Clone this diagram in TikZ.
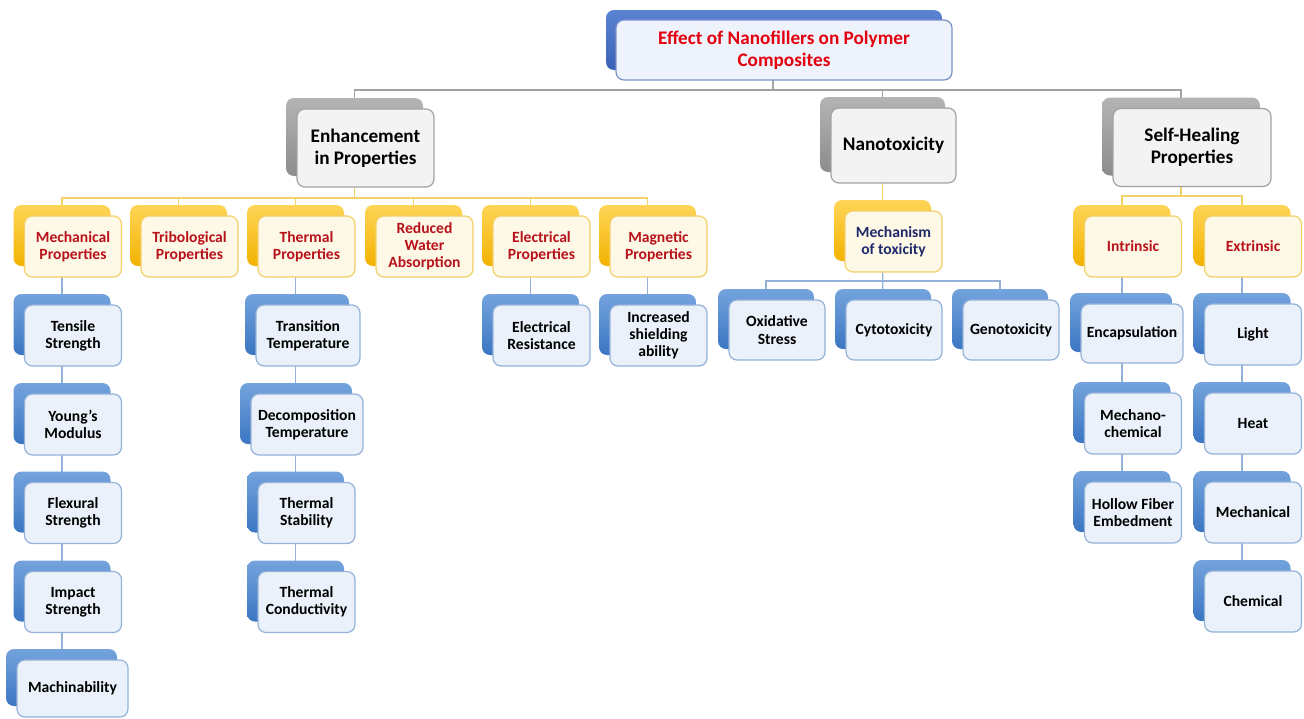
\documentclass[tikz,border=0pt]{standalone}
\usepackage{fontspec}
\setmainfont{Carlito}
\usetikzlibrary{shadows, backgrounds, positioning}

\definecolor{titlered}{HTML}{E3000F}
\definecolor{darkred}{HTML}{B8121B}
\definecolor{navytxt}{HTML}{1F2A6B}
\definecolor{bluetop}{HTML}{74A3DD}
\definecolor{bluebot}{HTML}{3B76C2}
\definecolor{bluefront}{HTML}{EAF1FA}
\definecolor{blueedge}{HTML}{94B2D8}
\definecolor{yellowtop}{HTML}{FFD557}
\definecolor{yellowbot}{HTML}{F2B200}
\definecolor{yellowfront}{HTML}{FEF8E6}
\definecolor{yellowedge}{HTML}{F3D068}
\definecolor{graytop}{HTML}{B4B4B4}
\definecolor{graybot}{HTML}{8C8C8C}
\definecolor{grayfront}{HTML}{F3F3F3}
\definecolor{grayedge}{HTML}{A2A2A2}
\definecolor{headtop}{HTML}{5A84D2}
\definecolor{headbot}{HTML}{3862B6}
\definecolor{headfront}{HTML}{EEF2FB}
\definecolor{headedge}{HTML}{7C8FCB}

\begin{document}
\begin{tikzpicture}[x=0.5pt, y=-0.5pt,
    box/.style={rounded corners=4pt, align=center, inner sep=0pt, line width=0.6pt,
        minimum width=48.5pt, minimum height=30.5pt,
        font=\fontsize{7.8}{8.6}\selectfont\bfseries},
    bluebox/.style={box, draw=blueedge, fill=bluefront,
        general shadow={top color=bluetop, bottom color=bluebot, shadow xshift=-5.5pt, shadow yshift=5.5pt}},
    yellowbox/.style={box, draw=yellowedge, fill=yellowfront, text=darkred,
        general shadow={top color=yellowtop, bottom color=yellowbot, shadow xshift=-5.5pt, shadow yshift=5.5pt}},
    graybox/.style={box, draw=grayedge, fill=grayfront, minimum height=39pt,
        font=\fontsize{9.6}{11}\selectfont\bfseries,
        general shadow={top color=graytop, bottom color=graybot, shadow xshift=-5.5pt, shadow yshift=5.5pt}},
    headbox/.style={box, draw=headedge, fill=headfront, text=titlered,
        minimum width=168pt, minimum height=30pt,
        font=\fontsize{9.6}{10.8}\selectfont\bfseries,
        general shadow={top color=headtop, bottom color=headbot, shadow xshift=-5pt, shadow yshift=5pt}},
    grayline/.style={draw=grayedge, line width=0.6pt},
    yline/.style={draw=yellowedge, line width=0.6pt},
    bline/.style={draw=blueedge, line width=0.6pt}]
    \useasboundingbox (0,0) rectangle (1304,718);

    % title and main branches
    \node[headbox] (title) at (784,50) {Effect of Nanofillers on Polymer\\Composites};
    \node[graybox, minimum width=68.5pt] (enh) at (365.5,148) {Enhancement\\in Properties};
    \node[graybox, minimum width=62.5pt, minimum height=37.5pt] (ntox) at (893.5,145.5) {Nanotoxicity};
    \node[graybox, minimum width=79pt] (shp) at (1192,147.5) {Self-Healing\\Properties};

    % properties
    \node[yellowbox] (mech) at (73,246.5) {Mechanical\\Properties};
    \node[yellowbox] (trib) at (189.5,246.5) {Tribological\\Properties};
    \node[yellowbox] (therm) at (306.5,246.5) {Thermal\\Properties};
    \node[yellowbox] (water) at (424.5,246.5) {Reduced\\Water\\Absorption};
    \node[yellowbox] (elecp) at (541.5,246.5) {Electrical\\Properties};
    \node[yellowbox] (magn) at (658.5,246.5) {Magnetic\\Properties};

    \node[bluebox] (tens) at (73,335.5) {Tensile\\Strength};
    \node[bluebox] (young) at (73,424.5) {Young{\char"0027}s\\Modulus};
    \node[bluebox] (flex) at (73,513) {Flexural\\Strength};
    \node[bluebox] (impact) at (73,602) {Impact\\Strength};
    \node[bluebox, minimum width=55.5pt, minimum height=28.5pt] (machin) at (72.5,688.5) {Machinability};

    \node[bluebox, minimum width=52pt] (trans) at (308,335.5) {Transition\\Temperature};
    \node[bluebox, minimum width=56pt] (decomp) at (307,424.5) {Decomposition\\Temperature};
    \node[bluebox] (tstab) at (306.5,513) {Thermal\\Stability};
    \node[bluebox] (tcond) at (306.5,602) {Thermal\\Conductivity};

    \node[bluebox] (eres) at (541.5,335.5) {Electrical\\Resistance};
    \node[bluebox] (shield) at (658.5,335.5) {Increased\\shielding\\ability};

    % toxicity
    \node[yellowbox, text=navytxt] (mechan) at (893.5,241.5) {Mechanism\\of toxicity};
    \node[bluebox, minimum width=48pt, minimum height=30pt] (oxid) at (777,330) {Oxidative\\Stress};
    \node[bluebox, minimum width=48pt, minimum height=30pt] (cyto) at (894,330) {Cytotoxicity};
    \node[bluebox, minimum width=48pt, minimum height=30pt] (geno) at (1011,330) {Genotoxicity};

    % self-healing
    \node[yellowbox] (intr) at (1133,246.5) {Intrinsic};
    \node[yellowbox] (extr) at (1253,246.5) {Extrinsic};
    \node[bluebox, minimum width=51pt, minimum height=29.5pt] (encap) at (1132,333.5) {Encapsulation};
    \node[bluebox] (mchem) at (1133,423.5) {Mechano-\\chemical};
    \node[bluebox] (hollow) at (1133,512.5) {Hollow Fiber\\Embedment};
    \node[bluebox] (light) at (1253,334.5) {Light};
    \node[bluebox] (heat) at (1253,423.5) {Heat};
    \node[bluebox] (mechx) at (1253,512.5) {Mechanical};
    \node[bluebox] (chem) at (1253,601.5) {Chemical};

    % connector points sit on the back boxes
    \foreach \n in {title,enh,ntox,shp,mech,trib,therm,water,elecp,magn,
                    mechan,oxid,cyto,geno,intr,extr}
        \coordinate (\n-c) at ([xshift=-5.5pt]\n.center);
    \path (title-c) ++(0,40) coordinate (gbus);
    \path (enh-c) ++(0,50) coordinate (ybus);
    \path (mechan-c) ++(0,39.5) coordinate (mbus);
    \path (shp-c) ++(0,48.5) coordinate (sbus);

    \begin{scope}[on background layer]
        \draw[grayline] (title-c) -- (gbus);
        \draw[grayline] (enh-c) |- (gbus) -| (shp-c);
        \draw[grayline] (ntox-c) -- (ntox-c |- gbus);

        \draw[yline] (enh-c) -- (ybus);
        \draw[yline] (mech-c) |- (ybus) -| (magn-c);
        \foreach \n in {trib,therm,water,elecp}
            \draw[yline] (\n-c) -- (\n-c |- ybus);
        \draw[yline] (ntox-c) -- (mechan-c);
        \draw[yline] (shp-c) -- (sbus);
        \draw[yline] (intr-c) |- (sbus) -| (extr-c);

        \draw[bline] (mech-c) -- (mech-c |- machin.center);
        \draw[bline] (therm-c) -- (therm-c |- tcond.center);
        \draw[bline] (elecp-c) -- (elecp-c |- eres.center);
        \draw[bline] (magn-c) -- (magn-c |- shield.center);
        \draw[bline] (mechan-c) -- (cyto-c);
        \draw[bline] (oxid-c) |- (mbus) -| (geno-c);
        \draw[bline] (intr-c) -- (intr-c |- hollow.center);
        \draw[bline] (extr-c) -- (extr-c |- chem.center);
    \end{scope}
\end{tikzpicture}
\end{document}
